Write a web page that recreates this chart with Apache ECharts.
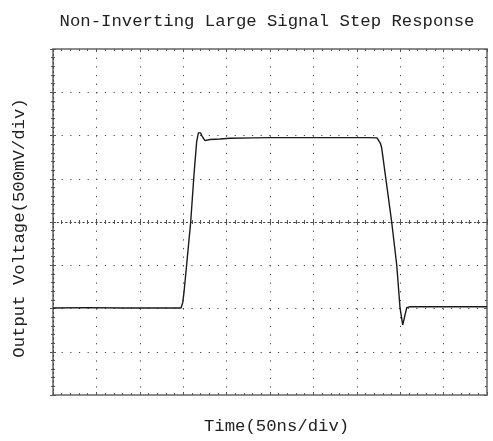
<!DOCTYPE html>
<html>
<head>
<meta charset="utf-8">
<script src="https://cdn.jsdelivr.net/npm/echarts@6/dist/echarts.min.js"></script>
<style>
html,body{margin:0;padding:0;background:#fff;}
#c{width:493px;height:441px;}
</style>
</head>
<body>
<div id="c"></div>
<script>
// Data (time in ns, voltage in V; 50 ns/div, 500 mV/div)
var timeNs = [0, 40, 80, 120, 147.5, 149.5, 151, 154.7, 158.6, 162.4, 165.5, 167.5, 168.5, 170, 171.7, 175.1, 180.9, 192.4, 203.9, 230, 250, 280, 319, 340, 361.8, 373.3, 375.5, 377.2, 378.7, 390.2, 396, 399.8, 402.9, 405, 407.5, 411.3, 450, 500];
var voltage = [-0.995, -0.99, -0.995, -0.995, -0.994, -0.93, -0.806, -0.416, -0.006, 0.543, 0.928, 1.03, 1.052, 1.03, 0.994, 0.94, 0.954, 0.96, 0.968, 0.972, 0.975, 0.975, 0.975, 0.975, 0.975, 0.972, 0.955, 0.91, 0.855, 0, -0.497, -0.994, -1.19, -1.1, -0.99, -0.98, -0.98, -0.98];
var titleText = 'Non-Inverting Large Signal Step Response';
var xName = 'Time(50ns/div)';
var yName = 'Output Voltage(500mV/div)';

var seriesData = timeNs.map(function (t, i) { return [t, voltage[i]]; });
var FONT = 'Liberation Mono';
var dot = [1.2, 7.45];

function edgeX(pos, extra) {
  return Object.assign({
    type: 'value', min: 0, max: 500, interval: 50, position: pos,
    axisLine: { show: true, onZero: false, lineStyle: { color: '#8a8a8a', width: 2 } },
    axisTick: { show: true, inside: true, length: 3, lineStyle: { color: '#555', width: 1 } },
    minorTick: { show: true, splitNumber: 5, length: 2, lineStyle: { color: '#555', width: 1 } },
    axisLabel: { show: false },
    splitLine: { show: false }
  }, extra || {});
}
function edgeY(pos, extra) {
  return Object.assign({
    type: 'value', min: -2, max: 2, interval: 0.5, position: pos,
    axisLine: { show: true, onZero: false, lineStyle: { color: '#8a8a8a', width: 2 } },
    axisTick: { show: true, inside: true, length: 3, lineStyle: { color: '#555', width: 1 } },
    minorTick: { show: true, splitNumber: 5, length: 2, lineStyle: { color: '#555', width: 1 } },
    axisLabel: { show: false },
    splitLine: { show: false }
  }, extra || {});
}
function centerX(inside) {
  return {
    type: 'value', min: 0, max: 500, interval: 50, position: 'bottom',
    axisLine: { show: true, onZero: true, onZeroAxisIndex: 0, lineStyle: { color: '#444', width: 1, type: [1, 3.3] } },
    axisTick: { show: true, inside: inside, length: 3, lineStyle: { color: '#555', width: 1 } },
    minorTick: { show: true, splitNumber: 5, length: 2, lineStyle: { color: '#555', width: 1 } },
    axisLabel: { show: false }, splitLine: { show: false }
  };
}
function centerY(inside) {
  return {
    type: 'value', min: -2, max: 2, interval: 0.5, position: 'left',
    axisLine: { show: true, onZero: true, onZeroAxisIndex: 0, lineStyle: { color: '#444', width: 1, type: [1, 3.3] } },
    axisTick: { show: true, inside: inside, length: 3, lineStyle: { color: '#555', width: 1 } },
    minorTick: { show: true, splitNumber: 5, length: 2, lineStyle: { color: '#555', width: 1 } },
    axisLabel: { show: false }, splitLine: { show: false }
  };
}

var chart = echarts.init(document.getElementById('c'), null, { renderer: 'canvas' });
chart.setOption({
  animation: false,
  backgroundColor: '#fff',
  title: {
    text: titleText, left: 262, top: 8, textAlign: 'center',
    textStyle: { fontFamily: FONT, fontSize: 17.3, fontWeight: 'normal', color: '#222' }
  },
  grid: { left: 53, right: 6, top: 49, bottom: 46, containLabel: false, outerBoundsMode: 'none' },
  graphic: [
    {
      type: 'text', left: 277 - 73, top: 418,
      style: { text: xName, font: '17.3px "Liberation Mono"', fill: '#222' }
    },
    {
      type: 'text', x: 19, y: 228, rotation: Math.PI / 2,
      style: { text: yName, font: '17.3px "Liberation Mono"', fill: '#222', align: 'center', verticalAlign: 'middle' }
    }
  ],
  xAxis: [
    edgeX('bottom', {
      splitLine: { show: true, lineStyle: { color: '#444', width: 1, type: dot } }
    }),
    edgeX('top'),
    centerX(true),
    centerX(false)
  ],
  yAxis: [
    edgeY('left', {
      splitLine: { show: true, lineStyle: { color: '#444', width: 1, type: dot } }
    }),
    edgeY('right'),
    centerY(true),
    centerY(false)
  ],
  series: [{
    type: 'line', xAxisIndex: 0, yAxisIndex: 0,
    data: seriesData, showSymbol: false, symbol: 'none',
    lineStyle: { color: '#1a1a1a', width: 1.4 },
    z: 5
  }]
});
</script>
</body>
</html>
